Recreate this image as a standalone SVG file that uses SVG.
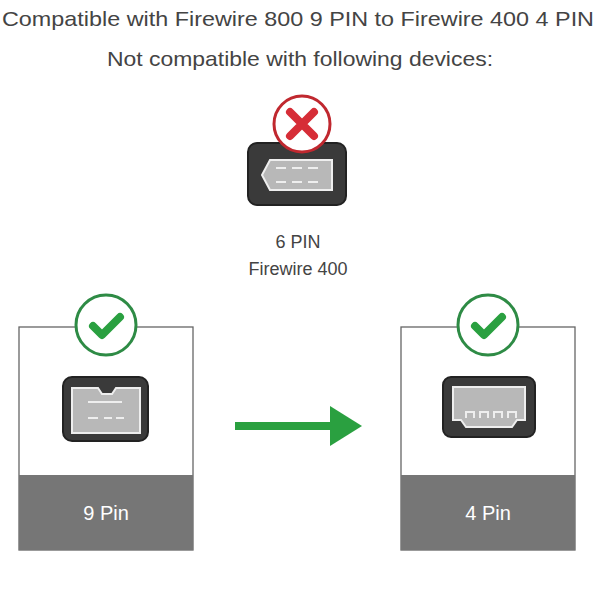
<svg xmlns="http://www.w3.org/2000/svg" width="600" height="600" viewBox="0 0 600 600">
<style>
text{font-family:"Liberation Sans",Arial,sans-serif;fill:#444}
.box{fill:#fff;stroke:#666;stroke-width:1.3}
.gray{fill:#767676}
.ok{fill:#fff;stroke:#2e8b45;stroke-width:3}
.chk{fill:none;stroke:#2aa040;stroke-width:8;stroke-linecap:round;stroke-linejoin:round}
.plug{fill:#3a3a3a;stroke:#222;stroke-width:2}
.inner{fill:#b8b8b8;stroke:#eee;stroke-width:2}
.pin{fill:none;stroke:#eee;stroke-width:2}
</style>
<rect width="600" height="600" fill="#fff"/>
<text x="2" y="26" font-size="21" textLength="592" lengthAdjust="spacingAndGlyphs">Compatible with Firewire 800 9 PIN to Firewire 400 4 PIN</text>
<text x="107" y="66" font-size="21" textLength="386" lengthAdjust="spacingAndGlyphs">Not compatible with following devices:</text>
<g id="six-pin">
<rect x="248" y="143" width="98" height="62" rx="9" class="plug"/>
<path d="M270 160 H332 V190 H270 L262 175 Z" class="inner"/>
<path d="M276 168h10M292 168h10M308 168h10M276 182h10M292 182h10M308 182h10" class="pin"/>
<circle cx="302" cy="124" r="28" fill="#fff" stroke="#c0282f" stroke-width="3"/>
<path d="M290 112 L314 136 M314 112 L290 136" stroke="#d62d37" stroke-width="8" stroke-linecap="round"/>
<text x="298" y="248" font-size="18" text-anchor="middle">6 PIN</text>
<text x="298" y="275" font-size="18" text-anchor="middle">Firewire 400</text>
</g>
<g id="nine-pin">
<rect x="19" y="327" width="174" height="223" class="box"/>
<rect x="19" y="475" width="174" height="75" class="gray"/>
<text x="106" y="520" font-size="20" text-anchor="middle" style="fill:#fff">9 Pin</text>
<rect x="63" y="377" width="85" height="64" rx="9" class="plug"/>
<path d="M72 388 H98 L102 394 H112 L116 388 H140 V433 H72 Z" class="inner"/>
<path d="M88 402h34M88 418h10M104 418h8M116 418h8" class="pin"/>
<circle cx="106" cy="325" r="30" class="ok"/>
<path d="M93 326 L102 335 L120 317" class="chk"/>
</g>
<g id="four-pin">
<rect x="401" y="327" width="174" height="223" class="box"/>
<rect x="401" y="475" width="174" height="75" class="gray"/>
<text x="488" y="520" font-size="20" text-anchor="middle" style="fill:#fff">4 Pin</text>
<rect x="443" y="377" width="92" height="60" rx="8" class="plug"/>
<path d="M453 387 H525 V420 H517 L512 427 H466 L461 420 H453 Z" class="inner"/>
<path d="M466 418v-6h8v6M480 418v-6h8v6M494 418v-6h8v6M508 418v-6h8v6" class="pin"/>
<circle cx="488" cy="325" r="30" class="ok"/>
<path d="M475 326 L484 335 L502 317" class="chk"/>
</g>
<g id="connectors">
<path d="M235 426 H332" stroke="#2aa040" stroke-width="8"/>
<path d="M330 406 L362 426 L330 446 Z" fill="#2aa040"/>
</g>
</svg>
